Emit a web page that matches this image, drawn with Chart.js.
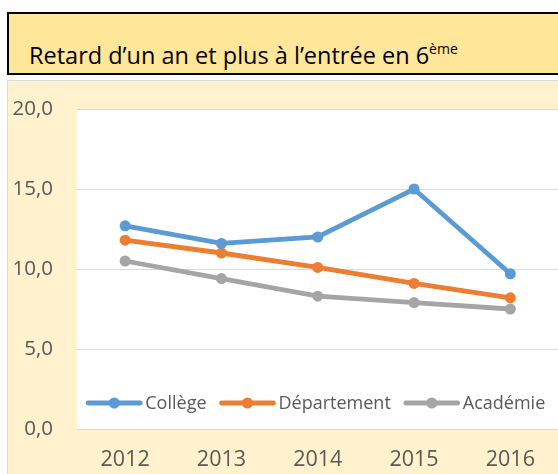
<!DOCTYPE html>
<html>
<head>
<meta charset="utf-8">
<script src="https://cdn.jsdelivr.net/npm/chart.js@4"></script>
<style>
    html, body { margin: 0; padding: 0; background: #fff; overflow: hidden; width: 558px; height: 474px; }
    .title-box {
        position: absolute; left: 7px; top: 12px; width: 620px; height: 59px;
        background: #FFE699; border: 2px solid #000;
        font-family: 'Open Sans', sans-serif; font-size: 23.5px; color: #000;
    }
    .title-box span { position: absolute; left: 20px; top: 30px; line-height: 1; white-space: nowrap; }
    .title-box sup { font-size: 14px; vertical-align: 0; position: relative; top: -10px; }
    .chart-box {
        position: absolute; left: 7px; top: 80px; width: 620px; height: 420px;
        background: #FFF2CC; border: 1px solid #D9D9D9;
    }
    canvas { position: absolute; left: 0; top: 0; }
</style>
</head>
<body>
<div class="title-box"><span>Retard d’un an et plus à l’entrée en 6<sup>ème</sup></span></div>
<div class="chart-box"><canvas id="chart" width="556" height="393"></canvas></div>
<script>
    const years = ['2012', '2013', '2014', '2015', '2016'];
    const college = [12.7, 11.6, 12.0, 15.0, 9.7];
    const departement = [11.8, 11.0, 10.1, 9.1, 8.2];
    const academie = [10.5, 9.4, 8.3, 7.9, 7.5];
    const yTicks = [0, 5, 10, 15, 20];

    const labelColor = '#595959';
    const fontFamily = "'Open Sans', sans-serif";

    function serie(label, data, color) {
        return {
            label: label,
            data: data,
            borderColor: color,
            backgroundColor: color,
            borderWidth: 4.8,
            pointRadius: 5.5,
            pointHoverRadius: 5.5,
            pointBorderWidth: 0,
            tension: 0
        };
    }

    // legend drawn inside the plot, Excel style (line + dot)
    const insideLegend = {
        id: 'insideLegend',
        afterDatasetsDraw(chart) {
            const ctx = chart.ctx;
            const area = chart.chartArea;
            const y = area.bottom - 26;
            const lineLen = 56, gapText = 3, gapItem = 13;
            ctx.save();
            ctx.font = '18px ' + fontFamily;
            const items = chart.data.datasets.map(ds => ({
                ds: ds,
                w: lineLen + gapText + ctx.measureText(ds.label).width
            }));
            const total = items.reduce((s, it) => s + it.w, 0) + gapItem * (items.length - 1);
            let x = (area.left + area.right) / 2 - total / 2 - 2;
            items.forEach(it => {
                ctx.strokeStyle = it.ds.borderColor;
                ctx.lineWidth = 4.8;
                ctx.lineCap = 'round';
                ctx.beginPath();
                ctx.moveTo(x + 2, y);
                ctx.lineTo(x + lineLen - 2, y);
                ctx.stroke();
                ctx.fillStyle = it.ds.borderColor;
                ctx.beginPath();
                ctx.arc(x + lineLen / 2, y, 5.5, 0, Math.PI * 2);
                ctx.fill();
                ctx.fillStyle = labelColor;
                ctx.textBaseline = 'middle';
                ctx.textAlign = 'left';
                ctx.fillText(it.ds.label, x + lineLen + gapText, y + 1);
                x += it.w + gapItem;
            });
            ctx.restore();
        }
    };

    const plotBg = {
        id: 'plotBg',
        beforeDraw(chart) {
            const a = chart.chartArea;
            chart.ctx.save();
            chart.ctx.fillStyle = '#fff';
            chart.ctx.fillRect(a.left, a.top, a.right - a.left, a.bottom - a.top);
            chart.ctx.restore();
        }
    };

    new Chart(document.getElementById('chart'), {
        type: 'line',
        data: {
            labels: years,
            datasets: [
                serie('Collège', college, '#5B9BD5'),
                serie('Département', departement, '#ED7D31'),
                serie('Académie', academie, '#A5A5A5')
            ]
        },
        options: {
            responsive: false,
            animation: false,
            layout: { padding: { top: 28, right: 4, left: 0, bottom: 0 } },
            scales: {
                x: {
                    offset: true,
                    grid: { display: false, drawTicks: false },
                    border: { display: false },
                    ticks: { color: labelColor, font: { family: fontFamily, size: 21.5 }, padding: 18, maxRotation: 0 },
                    afterFit(scale) {
                        scale.height = 45;
                        scale.paddingLeft = 0;
                        scale.paddingRight = 0;
                    }
                },
                y: {
                    min: 0,
                    max: 20,
                    afterBuildTicks(scale) { scale.ticks = yTicks.map(v => ({ value: v })); },
                    grid: { color: '#D9D9D9', lineWidth: 1, drawTicks: false },
                    border: { display: false },
                    ticks: {
                        color: labelColor,
                        font: { family: fontFamily, size: 20.5 },
                        padding: 24,
                        callback: v => v.toFixed(1).replace('.', ',')
                    },
                    afterFit(scale) {
                        scale.width = 69;
                        scale.paddingTop = 0;
                        scale.paddingBottom = 0;
                    }
                }
            },
            plugins: {
                legend: { display: false },
                tooltip: { enabled: false }
            }
        },
        plugins: [plotBg, insideLegend]
    });
</script>
</body>
</html>
